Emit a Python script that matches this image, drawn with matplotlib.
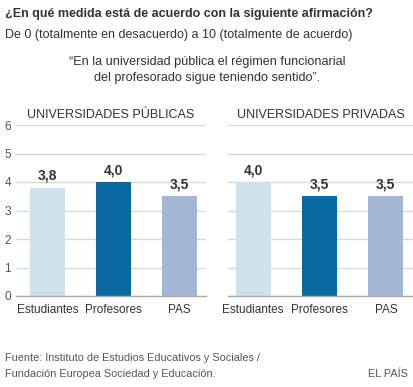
import matplotlib
matplotlib.use("Agg")
import matplotlib.pyplot as plt

plt.rcParams['font.family'] = ['Liberation Sans', 'DejaVu Sans']

categories = ["Estudiantes", "Profesores", "PAS"]
publicas = [3.8, 4.0, 3.5]
privadas = [4.0, 3.5, 3.5]
value_labels_pub = ["3,8", "4,0", "3,5"]
value_labels_priv = ["4,0", "3,5", "3,5"]
yticks = [0, 1, 2, 3, 4, 5, 6]
panel_titles = ["UNIVERSIDADES PÚBLICAS", "UNIVERSIDADES PRIVADAS"]
colors = ["#cfe2ec", "#0b69a1", "#a3b7d5"]

W, H = 414, 387
fig = plt.figure(figsize=(W / 100, H / 100), dpi=100)

def px_axes(x0, x1, ytop, ybot):
    return fig.add_axes([x0 / W, (H - ybot) / H, (x1 - x0) / W, (ybot - ytop) / H])

panels = [
    (px_axes(16, 206, 125, 296), publicas, value_labels_pub, panel_titles[0], (-0.48, 2.40), True),
    (px_axes(228, 413, 125, 296), privadas, value_labels_priv, panel_titles[1], (-0.38, 2.41), False),
]

for ax, vals, labs, title, xlim, show_y in panels:
    x = list(range(len(categories)))
    ax.bar(x, vals, width=0.53, color=colors, zorder=2)
    ax.set_ylim(0, 6)
    ax.set_xlim(*xlim)
    ax.set_yticks(yticks)
    ax.grid(axis='y', color='#d9d9d9', linewidth=1.0, zorder=0)
    ax.set_axisbelow(True)
    for s in ['top', 'right', 'left']:
        ax.spines[s].set_visible(False)
    ax.spines['bottom'].set_color('#aaaaaa')
    ax.spines['bottom'].set_linewidth(1.0)
    ax.set_xticks(x)
    ax.set_xticklabels(categories, fontsize=8.5, color='#333333')
    ax.tick_params(axis='x', length=0, pad=6)
    ax.tick_params(axis='y', length=0, labelsize=8.5, labelcolor='#555555')
    if not show_y:
        ax.set_yticklabels([])
    else:
        for t in ax.get_yticklabels():
            t.set_horizontalalignment('center')
        ax.tick_params(axis='y', pad=6)
    for xi, v, lab in zip(x, vals, labs):
        ax.text(xi, v + 0.17, lab, ha='center', va='bottom', fontsize=10,
                fontweight='bold', color='#333333')
    ax.text(0.5, 1.025, title, transform=ax.transAxes, ha='center', va='bottom',
            fontsize=9, color='#333333')

fig.text(5 / W, 1 - 14 / H, "¿En qué medida está de acuerdo con la siguiente afirmación?",
         fontsize=9, fontweight='bold', color='#333333', va='center', ha='left')
fig.text(5 / W, 1 - 35 / H, "De 0 (totalmente en desacuerdo) a 10 (totalmente de acuerdo)",
         fontsize=9, color='#333333', va='center', ha='left')
fig.text(207 / W, 1 - 62 / H, "“En la universidad pública el régimen funcionarial",
         fontsize=9.1, color='#333333', va='center', ha='center')
fig.text(207 / W, 1 - 78 / H, "del profesorado sigue teniendo sentido”.",
         fontsize=9.1, color='#333333', va='center', ha='center')
fig.text(5 / W, 1 - 358 / H, "Fuente: Instituto de Estudios Educativos y Sociales /",
         fontsize=7.8, color='#555555', va='center', ha='left')
fig.text(5 / W, 1 - 374 / H, "Fundación Europea Sociedad y Educación.",
         fontsize=7.8, color='#555555', va='center', ha='left')
fig.text(408 / W, 1 - 374 / H, "EL PAÍS", fontsize=7.8, color='#555555',
         va='center', ha='right')

fig.savefig("out.png", dpi=100, facecolor='white')
